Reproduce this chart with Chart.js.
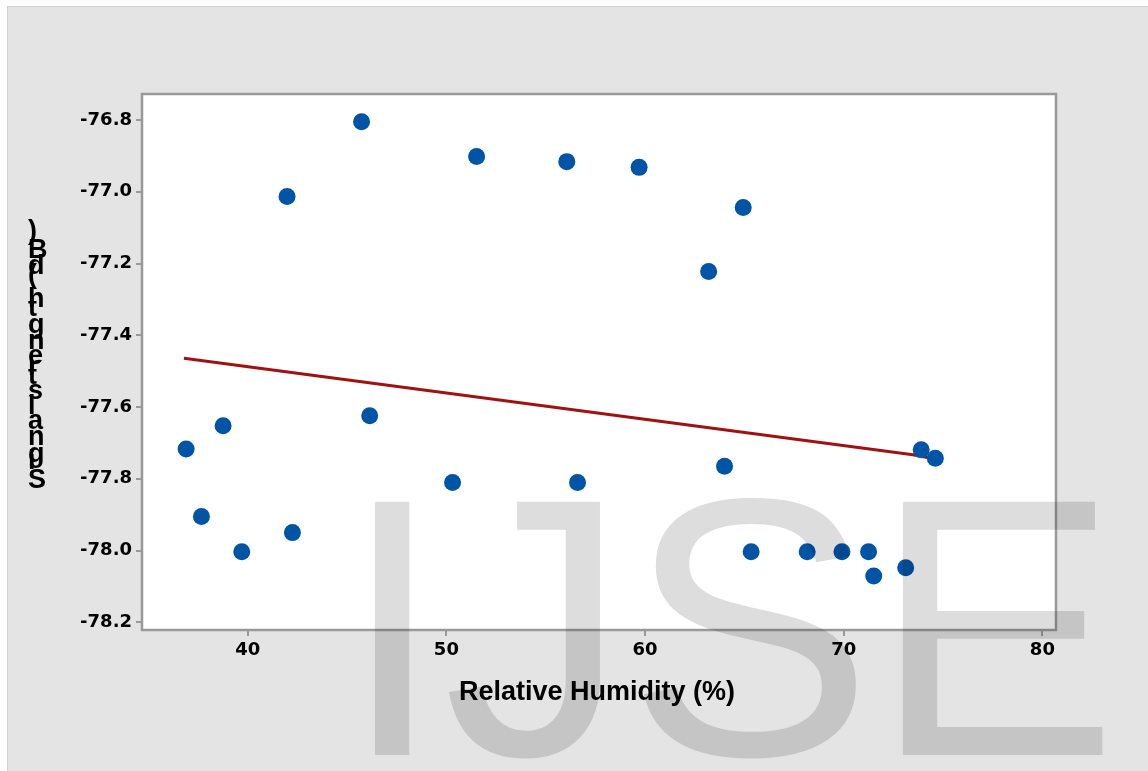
<!DOCTYPE html>
<html>
<head>
<meta charset="utf-8">
<script src="https://cdn.jsdelivr.net/npm/chart.js@4.4.1/dist/chart.umd.min.js"></script>
<style>
    html, body { margin: 0; padding: 0; background: #ffffff; }
    #wrap { width: 1148px; height: 771px; position: relative; }
</style>
</head>
<body>
<div id="wrap"><canvas id="chart"></canvas></div>
<script>
// Данные
const humidity = [36.9, 37.67, 38.76, 39.7, 41.98, 42.25, 45.73, 46.14, 50.31, 51.52, 56.06, 56.6,
    59.7, 63.2, 64.0, 64.94, 65.34, 68.16, 69.91, 71.25, 71.51, 73.12, 73.9, 74.61];
const signalStrength = [-77.717, -77.905, -77.652, -78.003, -77.013, -77.95, -76.805, -77.624, -77.81, -76.902, -76.916, -77.81,
    -76.932, -77.222, -77.765, -77.044, -78.003, -78.003, -78.003, -78.003, -78.071, -78.048, -77.719, -77.743];

// Линия регрессии
const fitX = [36.79, 73.48, 74.34];
const fitY = [-77.464, -77.733, -77.742];

// Подписи осей
const xTicks = [40, 50, 60, 70, 80];
const yTicks = [-76.8, -77.0, -77.2, -77.4, -77.6, -77.8, -78.0, -78.2];

const xTitle = 'Relative Humidity (%)';
const yTitle = 'Signal strength (dB)';
const watermark = 'IJSE';

document.addEventListener('DOMContentLoaded', function() {
    const ctx = document.getElementById('chart');

    // Фон, рамка области графика, подписи и водяной знак
    const decorPlugin = {
        id: 'decor',
        beforeDraw(chart) {
            const c = chart.ctx;
            const a = chart.chartArea;
            c.save();
            c.fillStyle = '#ffffff';
            c.fillRect(0, 0, chart.width, chart.height);
            c.fillStyle = '#d2d2d2';
            c.fillRect(7, 6, chart.width - 7, chart.height - 6);
            c.fillStyle = '#e4e4e4';
            c.fillRect(8, 7, chart.width - 8, chart.height - 7);
            c.fillStyle = '#ffffff';
            c.fillRect(a.left, a.top, a.right - a.left, a.bottom - a.top);
            c.restore();
        },
        afterDatasetsDraw(chart) {
            const c = chart.ctx;
            const a = chart.chartArea;
            c.save();
            c.strokeStyle = '#999999';
            c.lineWidth = 2.5;
            c.strokeRect(a.left, a.top, a.right - a.left, a.bottom - a.top);
            c.restore();
        },
        afterDraw(chart) {
            const c = chart.ctx;
            c.save();
            // подпись оси X
            c.fillStyle = '#000000';
            c.font = 'bold 27px "Liberation Sans", Arial, sans-serif';
            c.textAlign = 'center';
            c.textBaseline = 'alphabetic';
            c.fillText(xTitle, 597, 700);

            // подпись оси Y: буквы стоят друг на друге, как в оригинале
            c.textAlign = 'left';
            let y = 487.5;
            for (const ch of yTitle) {
                c.fillText(ch, 28, y);
                y -= c.measureText(ch).width;
            }

            // водяной знак
            c.globalCompositeOperation = 'multiply';
            c.fillStyle = '#dddddd';
            c.font = '368px "Liberation Sans", Arial, sans-serif';
            c.textAlign = 'left';
            c.fillText(watermark, 341, 755);
            c.restore();
        }
    };

    const tickFont = { family: '"DejaVu Sans", sans-serif', size: 18, weight: 'bold' };

    new Chart(ctx, {
        type: 'scatter',
        data: {
            datasets: [{
                label: 'Signal strength',
                data: humidity.map((x, i) => ({ x: x, y: signalStrength[i] })),
                backgroundColor: '#0054a6',
                borderWidth: 0,
                pointRadius: 8.5,
                pointHoverRadius: 8.5,
                order: 1
            }, {
                type: 'line',
                label: 'Fit',
                data: fitX.map((x, i) => ({ x: x, y: fitY[i] })),
                borderColor: '#9e1212',
                borderWidth: 3,
                pointRadius: 0,
                fill: false,
                tension: 0,
                order: 2
            }]
        },
        options: {
            responsive: true,
            maintainAspectRatio: false,
            animation: false,
            layout: { padding: { left: 0, top: 94, right: 92, bottom: 0 } },
            plugins: {
                legend: { display: false },
                tooltip: { enabled: false }
            },
            scales: {
                x: {
                    type: 'linear',
                    min: 34.678,
                    max: 80.685,
                    afterBuildTicks: function(scale) {
                        scale.ticks = xTicks.map(v => ({ value: v }));
                    },
                    afterFit: function(scale) { scale.height = 141; },
                    border: { display: false },
                    grid: { drawOnChartArea: false, drawTicks: true, tickLength: 6, color: '#999999', lineWidth: 2 },
                    ticks: {
                        color: '#000000',
                        font: tickFont,
                        padding: 4,
                        maxRotation: 0,
                        callback: v => String(v)
                    }
                },
                y: {
                    type: 'linear',
                    min: -78.2214,
                    max: -76.7275,
                    afterBuildTicks: function(scale) {
                        scale.ticks = yTicks.map(v => ({ value: v }));
                    },
                    afterFit: function(scale) { scale.width = 142; },
                    border: { display: false },
                    grid: { drawOnChartArea: false, drawTicks: true, tickLength: 6, color: '#999999', lineWidth: 2 },
                    ticks: {
                        color: '#000000',
                        font: tickFont,
                        padding: 4,
                        callback: v => v.toFixed(1)
                    }
                }
            }
        },
        plugins: [decorPlugin]
    });
});
</script>
</body>
</html>
